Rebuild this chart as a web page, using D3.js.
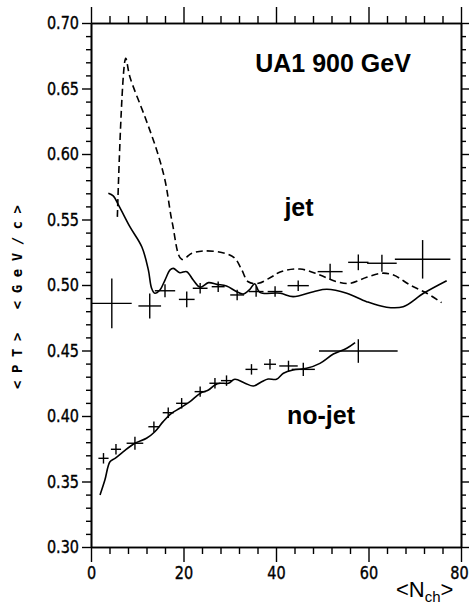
<!DOCTYPE html>
<html><head><meta charset="utf-8">
<script src="https://cdn.jsdelivr.net/npm/d3@7"></script>
<style>
body{margin:0;background:#fff;}
svg{display:block;}
</style></head>
<body>
<svg id="c" width="473" height="606"></svg>
<script>
// ---- data ----
const xTicksMajor = [0, 20, 40, 60, 80];
const yTicksMajor = [0.30, 0.35, 0.40, 0.45, 0.50, 0.55, 0.60, 0.65, 0.70];

// jet data points (crosses)
const jetN     = [4.5, 12.7, 16.0, 20.7, 23.6, 27.5, 31.6, 35.7, 39.8, 44.8, 51.7, 57.8, 62.9, 71.7];
const jetPt    = [0.486, 0.484, 0.4956, 0.489, 0.4975, 0.4987, 0.4924, 0.495, 0.495, 0.4995, 0.5102, 0.5173, 0.5166, 0.5196];
const jetNErr  = [4.3, 2.45, 2.2, 1.7, 1.6, 1.4, 1.5, 1.6, 1.6, 2.3, 2.7, 2.2, 3.2, 6.0];
const jetPtErr = [0.019, 0.0095, 0.005, 0.006, 0.004, 0.004, 0.004, 0.004, 0.004, 0.004, 0.006, 0.006, 0.0065, 0.0147];

// no-jet data points (crosses)
const nojetN     = [2.7, 5.4, 9.5, 13.6, 16.7, 19.6, 23.6, 26.8, 29.3, 34.7, 38.7, 42.7, 45.9, 57.8];
const nojetPt    = [0.3677, 0.3746, 0.3792, 0.3918, 0.4025, 0.4097, 0.4186, 0.425, 0.427, 0.4356, 0.4395, 0.4382, 0.4356, 0.4496];
const nojetNErr  = [1.1, 1.1, 1.8, 1.2, 1.2, 1.2, 1.2, 1.2, 1.2, 1.3, 1.3, 2.0, 2.5, 8.5];
const nojetPtErr = [0.004, 0.004, 0.005, 0.004, 0.004, 0.004, 0.004, 0.004, 0.004, 0.004, 0.004, 0.004, 0.005, 0.009];

// jet solid curve
const jetSolidN  = [3.75, 4.8, 6.1, 8.4, 11.0, 12.4, 13.1, 13.8, 14.9, 16.0, 17.1, 17.8, 19.2, 20.7, 22.1, 23.6, 25.4, 27.2, 29.3, 31.5, 32.9, 34.3, 35.4, 36.5, 40.9, 43.7, 48.1, 51.0, 55.3, 59.6, 63.9, 67.5, 71.9, 76.9];
const jetSolidPt = [0.570, 0.568, 0.560, 0.5445, 0.529, 0.5115, 0.4975, 0.4937, 0.4962, 0.5038, 0.5115, 0.5127, 0.5094, 0.5102, 0.5038, 0.4983, 0.5018, 0.5005, 0.4992, 0.4949, 0.4931, 0.4965, 0.5010, 0.4944, 0.4937, 0.4911, 0.4949, 0.4967, 0.4937, 0.4873, 0.4830, 0.4834, 0.4937, 0.5033];

// jet dashed curve
const jetDashN  = [5.7, 7.5, 8.4, 11.7, 14.2, 16.0, 17.6, 19.6, 21.8, 24.6, 29.0, 31.1, 32.6, 34.0, 36.2, 39.1, 40.9, 45.2, 49.5, 53.1, 56.0, 59.6, 62.9, 65.4, 69.0, 72.6, 75.8];
const jetDashPt = [0.552, 0.673, 0.659, 0.628, 0.603, 0.580, 0.547, 0.5196, 0.5242, 0.526, 0.5242, 0.5204, 0.5115, 0.5025, 0.5013, 0.5063, 0.5100, 0.5122, 0.5076, 0.5025, 0.5013, 0.5059, 0.509, 0.5076, 0.5000, 0.4937, 0.4865];

// no-jet solid curve
const nojetLineN  = [1.95, 3.0, 4.1, 5.2, 7.0, 9.5, 12.0, 13.8, 15.6, 17.4, 19.2, 21.4, 23.6, 25.4, 26.8, 27.9, 29.7, 31.1, 33.3, 35.1, 36.9, 38.3, 40.1, 41.6, 43.7, 46.6, 49.5, 52.4, 55.3, 57.1];
const nojetLinePt = [0.3397, 0.3511, 0.3651, 0.3677, 0.3728, 0.3792, 0.383, 0.388, 0.3957, 0.402, 0.4059, 0.4109, 0.4173, 0.4198, 0.4237, 0.425, 0.425, 0.428, 0.425, 0.4229, 0.4262, 0.4282, 0.428, 0.4326, 0.4351, 0.4364, 0.4402, 0.4473, 0.4517, 0.456];

// ---- chart ----
const svg = d3.select("#c");
const x = d3.scaleLinear().domain([0, 80]).range([91, 461]);
const y = d3.scaleLinear().domain([0.30, 0.70]).range([547, 23]);

const tickFont = "'DejaVu Sans',sans-serif";
const xMinor = d3.range(0, 81, 4).filter(v => v % 20 !== 0);
const yMinor = d3.range(30, 71, 1).map(v => v / 100).filter(v => Math.round(v * 100) % 5 !== 0);
const labLen = s => d3.sum(s.split(""), c => c === "." ? 4.5 : 9.2);

function styleAxis(g) {
  g.select(".domain").attr("stroke", "#000").attr("stroke-width", 1.6);
  g.selectAll(".tick line").attr("stroke", "#000").attr("stroke-width", 1.4);
  g.selectAll("text").attr("fill", "#000").style("font-family", tickFont).style("font-size", "18px")
    .attr("stroke", "#000").attr("stroke-width", 0.4)
    .attr("lengthAdjust", "spacingAndGlyphs")
    .attr("textLength", function() { return labLen(this.textContent); });
}

// bottom
svg.append("g").attr("transform", `translate(0,${y(0.30)})`)
  .call(d3.axisBottom(x).tickValues(xMinor).tickSize(7).tickSizeOuter(0).tickFormat(""))
  .call(g => g.selectAll("text").remove())
  .call(styleAxis);
svg.append("g").attr("transform", `translate(0,${y(0.30)})`)
  .call(d3.axisBottom(x).tickValues(xTicksMajor).tickSize(15).tickSizeOuter(0).tickPadding(4).tickFormat(d3.format("d")))
  .call(styleAxis)
  .call(g => g.selectAll("text").filter(d => d === 80).attr("dx", -2));
// top
svg.append("g").attr("transform", `translate(0,${y(0.70)})`)
  .call(d3.axisTop(x).tickValues(xMinor).tickSize(7).tickSizeOuter(0).tickFormat(""))
  .call(g => g.selectAll("text").remove())
  .call(styleAxis);
svg.append("g").attr("transform", `translate(0,${y(0.70)})`)
  .call(d3.axisTop(x).tickValues(xTicksMajor).tickSize(16).tickSizeOuter(0).tickFormat(""))
  .call(g => g.selectAll("text").remove())
  .call(styleAxis);
// left
svg.append("g").attr("transform", `translate(${x(0)},0)`)
  .call(d3.axisLeft(y).tickValues(yMinor).tickSize(5).tickSizeOuter(0).tickFormat(""))
  .call(g => g.selectAll("text").remove())
  .call(styleAxis);
svg.append("g").attr("transform", `translate(${x(0)},0)`)
  .call(d3.axisLeft(y).tickValues(yTicksMajor).tickSize(9).tickSizeOuter(0).tickPadding(3).tickFormat(d3.format(".2f")))
  .call(styleAxis);
// right
svg.append("g").attr("transform", `translate(${x(80)},0)`)
  .call(d3.axisRight(y).tickValues(yMinor).tickSize(5).tickSizeOuter(0).tickFormat(""))
  .call(g => g.selectAll("text").remove())
  .call(styleAxis);
svg.append("g").attr("transform", `translate(${x(80)},0)`)
  .call(d3.axisRight(y).tickValues(yTicksMajor).tickSize(8).tickSizeOuter(0).tickFormat(""))
  .call(g => g.selectAll("text").remove())
  .call(styleAxis);

// curves
const line = d3.line().x(d => x(d[0])).y(d => y(d[1])).curve(d3.curveCatmullRom.alpha(0.5));
svg.append("path").datum(d3.zip(jetSolidN, jetSolidPt)).attr("d", line)
  .attr("fill", "none").attr("stroke", "#000").attr("stroke-width", 1.6);
svg.append("path").datum(d3.zip(jetDashN, jetDashPt)).attr("d", line)
  .attr("fill", "none").attr("stroke", "#000").attr("stroke-width", 1.6).attr("stroke-dasharray", "7,4");
svg.append("path").datum(d3.zip(nojetLineN, nojetLinePt)).attr("d", line)
  .attr("fill", "none").attr("stroke", "#000").attr("stroke-width", 1.6);

// crosses
function crosses(N, P, NE, PE) {
  const g = svg.append("g").attr("stroke", "#000").attr("stroke-width", 1.4);
  const data = d3.zip(N, P, NE, PE);
  g.selectAll(".h").data(data).join("line")
    .attr("x1", d => x(d[0] - d[2])).attr("x2", d => x(d[0] + d[2]))
    .attr("y1", d => y(d[1])).attr("y2", d => y(d[1]));
  g.selectAll(".v").data(data).join("line")
    .attr("x1", d => x(d[0])).attr("x2", d => x(d[0]))
    .attr("y1", d => y(d[1] - d[3])).attr("y2", d => y(d[1] + d[3]));
}
crosses(jetN, jetPt, jetNErr, jetPtErr);
crosses(nojetN, nojetPt, nojetNErr, nojetPtErr);

// labels
const lab = "Arial, 'Liberation Sans', sans-serif";
svg.append("text").attr("x", 333).attr("y", 72).attr("text-anchor", "middle")
  .style("font-family", lab).style("font-weight", "bold").style("font-size", "25px").text("UA1 900 GeV");
svg.append("text").attr("x", 299).attr("y", 216).attr("text-anchor", "middle")
  .style("font-family", lab).style("font-weight", "bold").style("font-size", "25px").text("jet");
svg.append("text").attr("x", 321).attr("y", 424).attr("text-anchor", "middle")
  .style("font-family", lab).style("font-weight", "bold").style("font-size", "25px").text("no-jet");

// x title
const xt = svg.append("text").attr("x", 396).attr("y", 597)
  .style("font-family", lab).style("font-size", "22px");
xt.append("tspan").text("<N");
xt.append("tspan").attr("dy", 5).style("font-size", "15px").text("ch");
xt.append("tspan").attr("dy", -5).text(">");

// y title
svg.append("text").attr("transform", "translate(22,297) rotate(-90)")
  .attr("text-anchor", "middle")
  .attr("textLength", 184).attr("lengthAdjust", "spacing")
  .style("font-family", "'DejaVu Sans Mono', monospace").style("font-size", "14px").style("font-weight", "bold")
  .text("<PT> <GeV/c>");
</script>
</body></html>
